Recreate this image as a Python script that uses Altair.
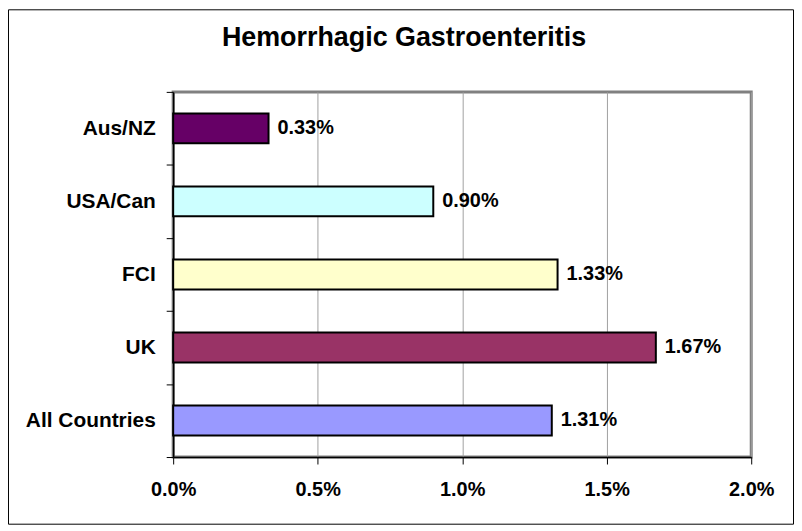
import altair as alt
import pandas as pd

TITLE = "Hemorrhagic Gastroenteritis"
categories = ["Aus/NZ", "USA/Can", "FCI", "UK", "All Countries"]
values = [0.0033, 0.0090, 0.0133, 0.0167, 0.0131]
colors = ["#660066", "#CCFFFF", "#FFFFCC", "#993366", "#9999FF"]
x_ticks = [0.0, 0.005, 0.01, 0.015, 0.02]

FONT = "Liberation Sans"
W, H = 581, 367
PAD_L, PAD_T, PAD_R, PAD_B = 166, 83, 43, 68

df = pd.DataFrame({"region": categories, "rate": values})

y_scale = alt.Scale(domain=categories, paddingInner=0, paddingOuter=0)

y_enc = alt.Y(
    "region:N", sort=categories, title=None, scale=y_scale,
    axis=alt.Axis(
        tickBand="extent", ticks=True, tickSize=7, tickColor="black", tickWidth=1,
        domain=True, domainColor="black", domainWidth=1.5,
        labelFont=FONT, labelFontWeight="bold", labelFontSize=21, labelColor="black",
        labelPadding=11, grid=False,
    ),
)
x_enc = alt.X(
    "rate:Q", title=None, scale=alt.Scale(domain=[0, 0.02], nice=False),
    axis=alt.Axis(
        values=x_ticks, format=".1%", grid=True, gridColor="#a0a0a0", gridWidth=1,
        tickSize=7, tickColor="black", tickWidth=1,
        domainColor="black", domainWidth=1.5,
        labelFont=FONT, labelFontSize=20, labelFontWeight="bold", labelColor="black",
        labelPadding=16, labelFlush=False, labelOverlap=False,
    ),
)

bars = alt.Chart(df).mark_bar(stroke="black", strokeWidth=2, size=30).encode(
    x=x_enc,
    y=y_enc,
    color=alt.Color("region:N", scale=alt.Scale(domain=categories, range=colors), legend=None),
)

labels = alt.Chart(df).mark_text(
    align="left", baseline="middle", dx=9, font=FONT, fontSize=20,
    fontWeight="bold", color="black",
).encode(
    x=alt.X("rate:Q"),
    y=alt.Y("region:N", sort=categories),
    text=alt.Text("rate:Q", format=".2%"),
)

title = alt.Chart(alt.Data(values=[{"t": TITLE}])).mark_text(
    align="center", baseline="alphabetic", font=FONT, fontSize=27,
    fontWeight="bold", color="black",
).encode(
    x=alt.value(232), y=alt.value(-46), text="t:N",
)

frame = alt.Chart(alt.Data(values=[{"f": 1}])).mark_rect(
    fillOpacity=0, stroke="black", strokeWidth=1,
).encode(
    x=alt.value(-PAD_L + 0.5), x2=alt.value(W + PAD_R - 0.5),
    y=alt.value(-PAD_T + 0.5), y2=alt.value(H + PAD_B - 0.5),
)

chart = alt.layer(bars, labels, title, frame).properties(
    width=W, height=H,
    autosize=alt.AutoSizeParams(type="none"),
    padding={"left": PAD_L, "top": PAD_T, "right": PAD_R, "bottom": PAD_B},
).configure(
    font=FONT, background="white",
).configure_view(
    stroke="#808080", strokeWidth=3,
)

chart.save("out.html", embed_options={"renderer": "svg", "actions": False})
